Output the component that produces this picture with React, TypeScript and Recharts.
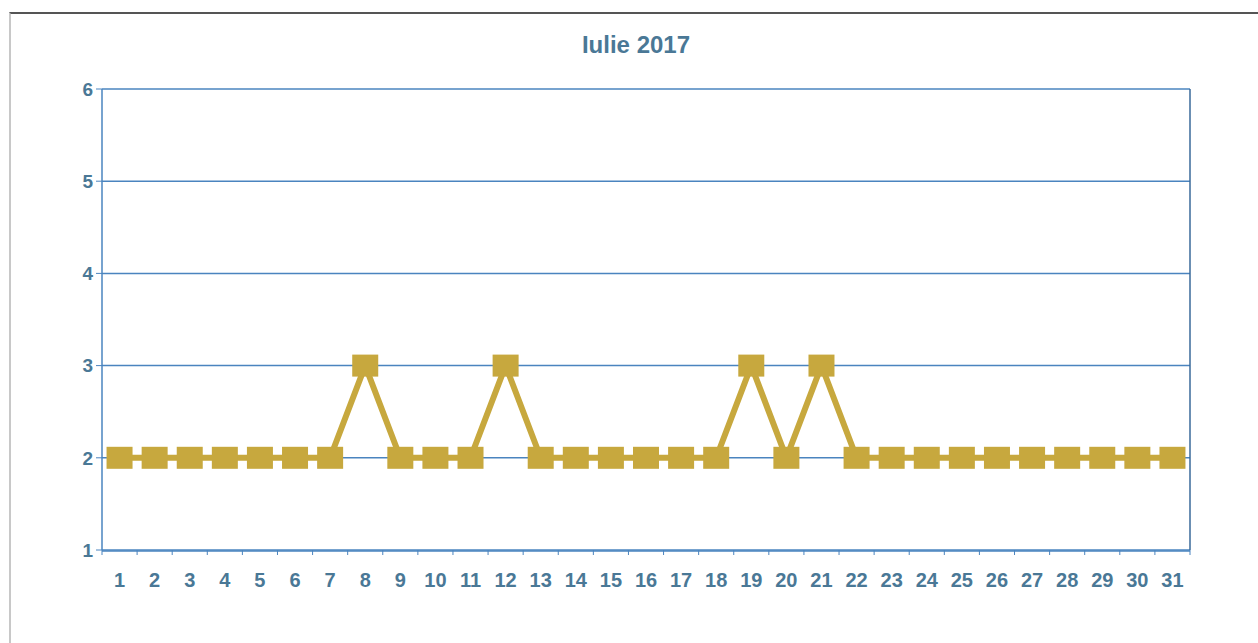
import React from "react";
import { LineChart, Line, XAxis, YAxis, CartesianGrid, ReferenceLine } from "recharts";

const days = [1,2,3,4,5,6,7,8,9,10,11,12,13,14,15,16,17,18,19,20,21,22,23,24,25,26,27,28,29,30,31];
const values = [2,2,2,2,2,2,2,3,2,2,2,3,2,2,2,2,2,2,3,2,3,2,2,2,2,2,2,2,2,2,2];
const yTicks = [1,2,3,4,5,6];
const title = "Iulie 2017";

const data = days.map((d, i) => ({ day: d, value: values[i] }));
const boundaries = [0, ...days].map((d) => d + 0.5);

const LINE_COLOR = "#c7a83e";
const AXIS_COLOR = "#4a84bf";
const TEXT_COLOR = "#4a7896";

const SquareDot = (props: any) => {
  const { cx, cy } = props;
  if (cx == null || cy == null) return null;
  return <rect x={cx - 13} y={cy - 11} width={26} height={22} fill={LINE_COLOR} />;
};

const BoundTick = (props: any) => {
  const { x, y } = props;
  if (x == null || y == null) return null;
  return <line x1={x} y1={y} x2={x} y2={y + 5} stroke={AXIS_COLOR} strokeWidth={1} />;
};

export default function App() {
  return (
    <div style={{ position: "absolute", left: 0, top: 0, width: 1258, height: 643, background: "#fff", fontFamily: "'Liberation Sans', Arial, sans-serif" }}>
      <div style={{ position: "absolute", left: 9, top: 12, width: 1249, height: 631, borderTop: "2px solid #555", borderLeft: "2px solid #c8c8c8", boxSizing: "border-box" }} />
      <div style={{ position: "absolute", left: 0, width: 1272, top: 31, textAlign: "center", fontSize: 24, fontWeight: "bold", color: TEXT_COLOR }}>{title}</div>
      <div style={{ position: "absolute", left: 0, top: 0 }}>
        <LineChart width={1258} height={643} data={data} margin={{ top: 89, right: 68, left: 0, bottom: 53 }}>
          <CartesianGrid xAxisId="main" horizontal={true} vertical={false} stroke={AXIS_COLOR} strokeWidth={1.5} strokeDasharray="" />
          <XAxis
            xAxisId="bounds"
            dataKey="day"
            type="number"
            domain={[0.5, 31.5]}
            ticks={boundaries}
            interval={0}
            axisLine={false}
            tickLine={false}
            tickSize={0}
            tickMargin={0}
            tick={<BoundTick />}
            height={1}
          />
          <XAxis
            xAxisId="main"
            dataKey="day"
            type="number"
            domain={[0.5, 31.5]}
            ticks={days}
            interval={0}
            tickLine={false}
            axisLine={{ stroke: AXIS_COLOR, strokeWidth: 1.5 }}
            tick={{ fill: TEXT_COLOR, fontSize: 20, fontWeight: "bold" }}
            tickMargin={16}
            height={39}
          />
          <YAxis
            type="number"
            domain={[1, 6]}
            ticks={yTicks}
            interval={0}
            width={102}
            axisLine={{ stroke: AXIS_COLOR, strokeWidth: 1.5 }}
            tickLine={{ stroke: AXIS_COLOR }}
            tickSize={6}
            tick={{ fill: TEXT_COLOR, fontSize: 19, fontWeight: "bold" }}
            tickMargin={3}
          />
          <ReferenceLine xAxisId="main" x={31.5} stroke="#3a6a9a" strokeWidth={1.5} />
          <Line
            xAxisId="main"
            type="linear"
            dataKey="value"
            stroke={LINE_COLOR}
            strokeWidth={6}
            dot={<SquareDot />}
            activeDot={false}
            isAnimationActive={false}
          />
        </LineChart>
      </div>
    </div>
  );
}
